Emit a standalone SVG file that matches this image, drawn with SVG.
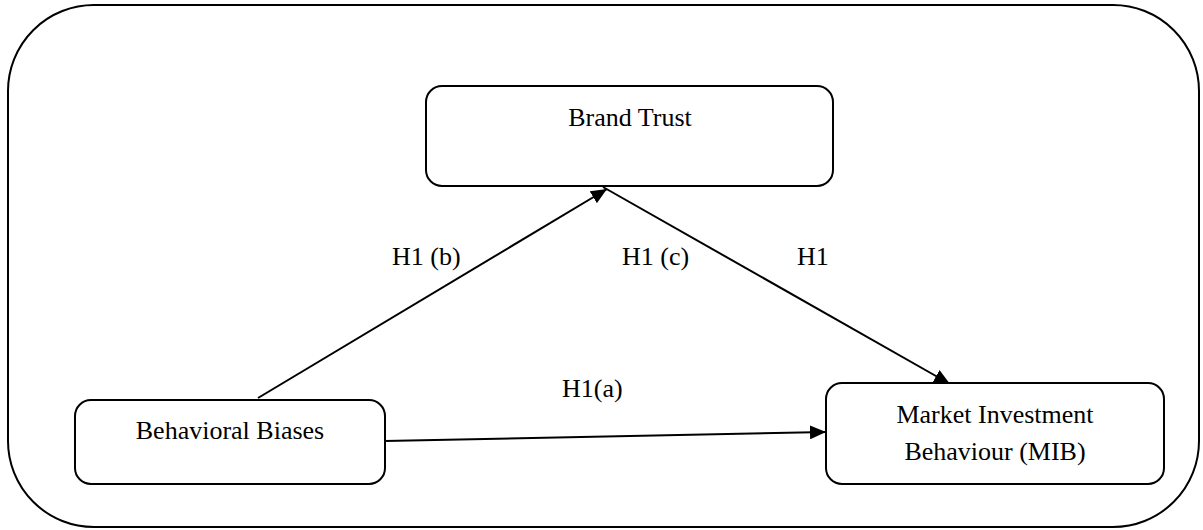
<svg xmlns="http://www.w3.org/2000/svg" width="1203" height="530" viewBox="0 0 1203 530">
  <style>
    .box { fill: #fff; stroke: #000; stroke-width: 2; }
    .lbl { font-family: "Liberation Serif", "Times New Roman", serif; font-size: 26px; fill: #000; }
    .conn { stroke: #000; stroke-width: 2; fill: none; }
  </style>
  <defs>
    <marker id="arr" viewBox="0 0 16 14" refX="16" refY="7" markerWidth="16" markerHeight="14" markerUnits="userSpaceOnUse" orient="auto">
      <path d="M0,0 L16,7 L0,14 Z" fill="#000"/>
    </marker>
  </defs>
  <rect id="frame" x="8" y="5" width="1191" height="522" rx="86" ry="86" fill="#fff" stroke="#000" stroke-width="2"/>
  <g id="connectors">
    <line class="conn" x1="258" y1="398" x2="607" y2="189" marker-end="url(#arr)"/>
    <line class="conn" x1="603" y1="187" x2="950" y2="384" marker-end="url(#arr)"/>
    <line class="conn" x1="385" y1="441" x2="826" y2="432" marker-end="url(#arr)"/>
  </g>
  <g id="brand-trust">
    <rect class="box" x="426" y="86" width="407" height="100" rx="16" ry="16"/>
    <text class="lbl" x="630" y="126" text-anchor="middle">Brand Trust</text>
  </g>
  <g id="behavioral-biases">
    <rect class="box" x="75" y="400" width="310" height="84" rx="16" ry="16"/>
    <text class="lbl" x="230" y="439" text-anchor="middle">Behavioral Biases</text>
  </g>
  <g id="mib">
    <rect class="box" x="826" y="383" width="338" height="101" rx="16" ry="16"/>
    <text class="lbl" x="995" y="423" text-anchor="middle">Market Investment</text>
    <text class="lbl" x="995" y="460" text-anchor="middle">Behaviour (MIB)</text>
  </g>
  <g id="labels">
    <text class="lbl" x="392" y="265">H1 (b)</text>
    <text class="lbl" x="622" y="265">H1 (c)</text>
    <text class="lbl" x="797" y="265">H1</text>
    <text class="lbl" x="562" y="397">H1(a)</text>
  </g>
</svg>
